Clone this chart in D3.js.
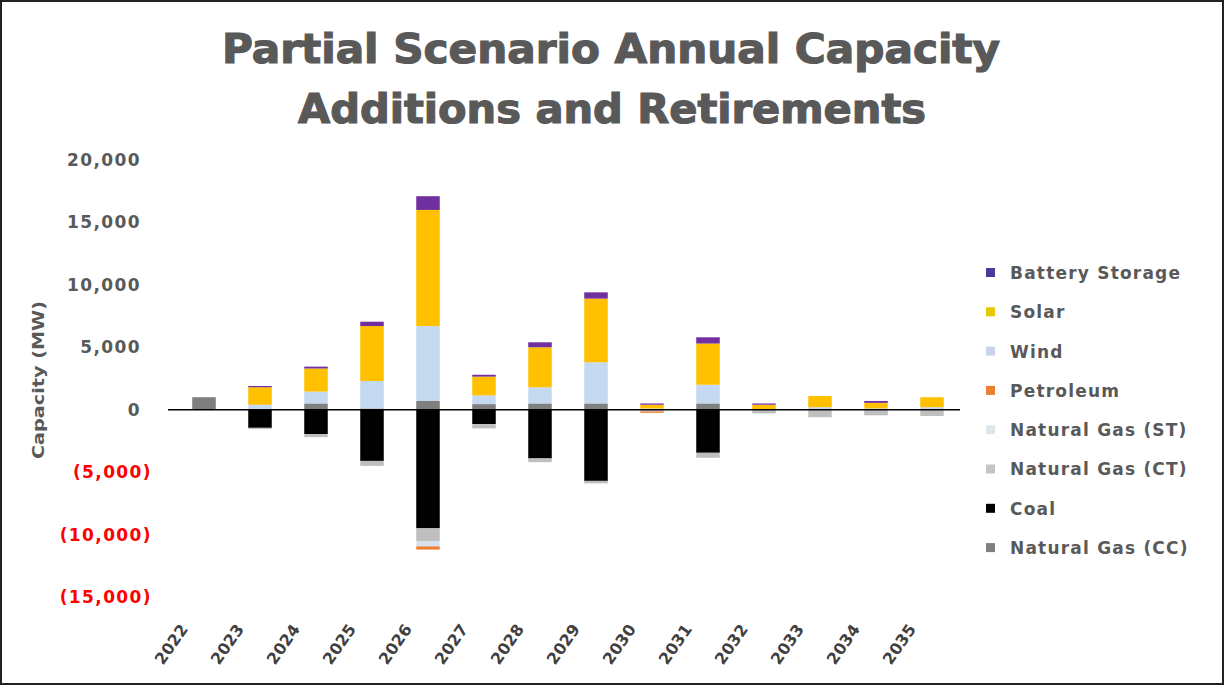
<!DOCTYPE html>
<html><head><meta charset="utf-8">
<script src="https://cdn.jsdelivr.net/npm/d3@7"></script>
<style>body{margin:0;background:#fff}svg{display:block}</style>
</head><body>
<svg id="chart" width="1225" height="686"></svg>
<script>
const years = ["2022","2023","2024","2025","2026","2027","2028","2029","2030","2031","2032","2033","2034","2035"];
const seriesNames = ["Natural Gas (CC)","Coal","Natural Gas (CT)","Natural Gas (ST)","Petroleum","Wind","Solar","Battery Storage"];
const ngCC    = [1000, 0, 500, 100, 700, 450, 500, 500, 0, 500, 0, 0, 0, 0];
const coal    = [0, -1450, -1950, -4100, -9500, -1150, -3900, -5700, 0, -3450, 0, 0, 0, 0];
const ngCT    = [0, -100, -250, -400, -1050, -350, -300, -200, -150, -400, -300, -600, -450, -500];
const ngST    = [0, 0, 0, 0, -400, 0, 0, 0, 0, 0, 0, 0, 0, 0];
const petro   = [0, 0, 0, 0, -250, 0, 0, 0, -100, 0, 0, 0, 0, 0];
const wind    = [0, 400, 950, 2200, 6000, 700, 1300, 3300, 100, 1500, 50, 200, 100, 200];
const solar   = [0, 1400, 1850, 4400, 9300, 1500, 3200, 5100, 300, 3300, 350, 900, 450, 800];
const battery = [0, 100, 150, 350, 1100, 150, 400, 500, 100, 500, 100, 0, 150, 0];
const yTicks  = [20000, 15000, 10000, 5000, 0, -5000, -10000, -15000];
const legendOrder = ["Battery Storage","Solar","Wind","Petroleum","Natural Gas (ST)","Natural Gas (CT)","Coal","Natural Gas (CC)"];

const seriesValues = [ngCC, coal, ngCT, ngST, petro, wind, solar, battery];
const colors = {
  "Natural Gas (CC)": "#7f7f7f",
  "Coal": "#000000",
  "Natural Gas (CT)": "#bfbfbf",
  "Natural Gas (ST)": "#d6e3ee",
  "Petroleum": "#ed7d31",
  "Wind": "#c5d9f1",
  "Solar": "#ffc000",
  "Battery Storage": "#7030a0"
};
const legendColors = Object.assign({}, colors, {"Battery Storage":"#4b3a9c","Solar":"#e6c800","Wind":"#c9d3ec","Natural Gas (ST)":"#dfe6ea","Natural Gas (CT)":"#c4c4c4"});
const FONT = "'DejaVu Sans', 'Liberation Sans', Arial, sans-serif";

const rows = years.map((y,i)=>{const r={year:y}; seriesNames.forEach((s,k)=>r[s]=seriesValues[k][i]); return r;});
const stack = d3.stack().keys(seriesNames).offset(d3.stackOffsetDiverging)(rows);

const svg = d3.select("#chart");
svg.append("rect").attr("x",1).attr("y",1).attr("width",1222).attr("height",683)
  .attr("fill","#fff").attr("stroke","#222").attr("stroke-width",2);

const x = d3.scaleBand().domain(years).range([176, 960]).paddingInner(0.58).paddingOuter(0.29);
const y = d3.scaleLinear().domain([-15000, 20000]).range([597, 160]);

// title
const title = svg.append("text").attr("text-anchor","middle").attr("fill","#595959")
  .attr("stroke","#595959").attr("stroke-width",1.2)
  .style("font-family",FONT).style("font-weight","bold").style("font-size","40px");
title.append("tspan").attr("x",611).attr("y",63).attr("textLength",778).attr("lengthAdjust","spacingAndGlyphs").text("Partial Scenario Annual Capacity");
title.append("tspan").attr("x",612).attr("y",123).attr("textLength",628).attr("lengthAdjust","spacingAndGlyphs").text("Additions and Retirements");

// y axis labels
const fmt = v => v < 0 ? "(" + d3.format(",")(-v) + ")" : d3.format(",")(v);
const yAxis = d3.axisLeft(y).tickValues(yTicks).tickFormat(fmt).tickSize(0).tickPadding(0);
const ga = svg.append("g").attr("transform","translate(141,0)").call(yAxis);
ga.select(".domain").remove();
ga.selectAll("text")
  .attr("x", d => d < 0 ? 11 : 0)
  .attr("fill", d => d < 0 ? "#ff0000" : "#595959")
  .style("font-family",FONT).style("font-weight","bold").style("font-size","17px").style("letter-spacing","1.4px");

svg.append("text").attr("transform","translate(44,380) rotate(-90)").attr("text-anchor","middle")
  .attr("fill","#595959").style("font-family",FONT).style("font-weight","bold").style("font-size","15px")
  .attr("textLength",158).attr("lengthAdjust","spacingAndGlyphs")
  .text("Capacity (MW)");

// bars
svg.append("g").selectAll("g").data(stack).join("g").attr("fill", d => colors[d.key])
  .selectAll("rect").data(d => d).join("rect")
  .attr("x", d => x(d.data.year)).attr("width", x.bandwidth())
  .attr("y", d => y(Math.max(d[0], d[1])))
  .attr("height", d => Math.abs(y(d[0]) - y(d[1])));

// zero line
svg.append("line").attr("x1",168).attr("x2",960).attr("y1",y(0)).attr("y2",y(0)).attr("stroke","#000").attr("stroke-width",1.5);

// x labels
const gx = svg.append("g");
gx.selectAll("text").data(years).join("text")
  .attr("transform", d => `translate(${x(d)+x.bandwidth()/2 - 20},${626}) rotate(-55)`)
  .attr("text-anchor","end").attr("dy","0.35em")
  .attr("fill","#404040").style("font-family",FONT).style("font-weight","bold").style("font-size","16px")
  .text(d => d);

// legend
const lg = svg.append("g");
legendOrder.forEach((name,i)=>{
  const yy = 273 + i*39.3;
  lg.append("rect").attr("x",986).attr("y",yy-5).attr("width",9).attr("height",9).attr("fill",legendColors[name]);
  lg.append("text").attr("x",1010).attr("y",yy).attr("dy","0.35em").attr("fill","#595959")
    .style("font-family",FONT).style("font-weight","bold").style("font-size","17px").style("letter-spacing","1.2px")
    .text(name);
});
</script>
</body></html>
